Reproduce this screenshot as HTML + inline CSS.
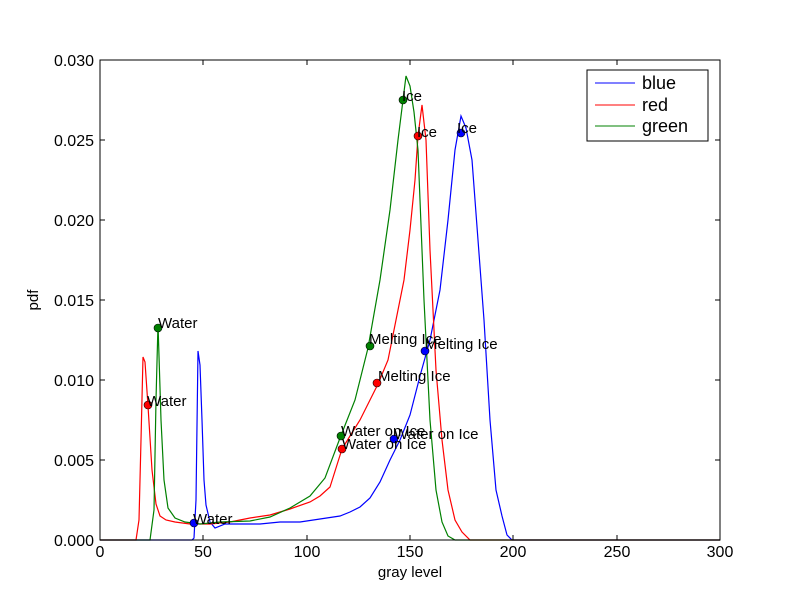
<!DOCTYPE html>
<html><head><meta charset="utf-8"><style>body{margin:0;background:#fff}svg{display:block}text{font-family:"Liberation Sans","DejaVu Sans",sans-serif}</style></head>
<body>
<svg width="800" height="600" viewBox="0 0 800 600" xmlns="http://www.w3.org/2000/svg">
<rect width="800" height="600" fill="#fff"/>
<g fill="none" stroke-width="1.2">
<polyline stroke="#0000ff" points="100,540 192,540 194,538 196,500 198,351 200,365 202,420 204,480 206,505 210,522 215,528 225,524 245,524 260,524 280,522 300,522 320,519 340,516 350,512 360,507 370,498 380,482 390,460 400,440 410,415 420,376 430,340 440,290 448,220 455,150 461,116 466,128 472,160 478,240 484,320 490,420 496,490 502,516 507,535 512,540 720,540"/>
<polyline stroke="#ff0000" points="100,540 136,540 139,520 141,440 143,357 145,362 148,406 152,470 156,504 160,516 166,520 175,522 190,524 210,524 230,522 250,518 270,515 290,509 310,502 320,496 330,487 342,449 350,436 360,420 370,400 378,384 388,360 396,320 404,280 410,230 415,180 418,136 422,105 426,140 430,250 436,370 442,440 448,490 455,520 462,532 470,540 720,540"/>
<polyline stroke="#008000" points="100,540 150,540 154,510 156,400 158,324 161,420 164,480 168,508 175,518 185,522 200,524 220,522 250,521 270,517 290,508 310,496 325,478 340,438 355,400 368,348 380,280 390,210 398,140 403,100 406,76 410,86 414,112 418,150 424,300 430,420 436,490 442,522 448,536 455,540 720,540"/>
</g>
<rect x="100" y="60" width="620" height="480" fill="none" stroke="#000"/>
<g stroke="#000">
<line x1="100" y1="540" x2="100" y2="535"/><line x1="203" y1="540" x2="203" y2="535"/><line x1="307" y1="540" x2="307" y2="535"/><line x1="410" y1="540" x2="410" y2="535"/><line x1="513" y1="540" x2="513" y2="535"/><line x1="617" y1="540" x2="617" y2="535"/>
<line x1="203" y1="60" x2="203" y2="65"/><line x1="307" y1="60" x2="307" y2="65"/><line x1="410" y1="60" x2="410" y2="65"/><line x1="513" y1="60" x2="513" y2="65"/><line x1="617" y1="60" x2="617" y2="65"/>
<line x1="100" y1="460" x2="105" y2="460"/><line x1="100" y1="380" x2="105" y2="380"/><line x1="100" y1="300" x2="105" y2="300"/><line x1="100" y1="220" x2="105" y2="220"/><line x1="100" y1="140" x2="105" y2="140"/>
<line x1="720" y1="460" x2="715" y2="460"/><line x1="720" y1="380" x2="715" y2="380"/><line x1="720" y1="300" x2="715" y2="300"/><line x1="720" y1="220" x2="715" y2="220"/><line x1="720" y1="140" x2="715" y2="140"/>
</g>
<g font-size="16" text-anchor="middle" fill="#000">
<text x="100" y="557">0</text><text x="203" y="557">50</text><text x="307" y="557">100</text><text x="410" y="557">150</text><text x="513" y="557">200</text><text x="617" y="557">250</text><text x="720" y="557">300</text>
<text x="410" y="577" font-size="15">gray level</text>
</g>
<g font-size="16" text-anchor="end">
<text x="94" y="546">0.000</text><text x="94" y="466">0.005</text><text x="94" y="386">0.010</text><text x="94" y="306">0.015</text><text x="94" y="226">0.020</text><text x="94" y="146">0.025</text><text x="94" y="66">0.030</text>
</g>
<text x="38" y="300" font-size="15" text-anchor="middle" transform="rotate(-90 38 300)">pdf</text>
<g stroke="#000" stroke-width="0.6">
<circle cx="194" cy="523" r="4" fill="#0000ff"/><circle cx="394" cy="439" r="4" fill="#0000ff"/><circle cx="425" cy="351" r="4" fill="#0000ff"/><circle cx="461" cy="133" r="4" fill="#0000ff"/>
<circle cx="148" cy="405" r="4" fill="#ff0000"/><circle cx="342" cy="449" r="4" fill="#ff0000"/><circle cx="377" cy="383" r="4" fill="#ff0000"/><circle cx="418" cy="136" r="4" fill="#ff0000"/>
<circle cx="158" cy="328" r="4" fill="#008000"/><circle cx="341" cy="436" r="4" fill="#008000"/><circle cx="370" cy="346" r="4" fill="#008000"/><circle cx="403" cy="100" r="4" fill="#008000"/>
</g>
<g font-size="15">
<text x="193" y="524">Water</text><text x="394" y="439">Water on Ice</text><text x="425" y="349">Melting Ice</text><text x="457" y="133">Ice</text>
<text x="147" y="406">Water</text><text x="342" y="449">Water on Ice</text><text x="378" y="381">Melting Ice</text><text x="417" y="137">Ice</text>
<text x="158" y="328">Water</text><text x="341" y="436">Water on Ice</text><text x="369" y="344">Melting Ice</text><text x="402" y="101">Ice</text>
</g>
<rect x="587" y="70" width="121" height="71" fill="#fff" stroke="#000"/>
<line x1="595" y1="83" x2="635" y2="83" stroke="#0000ff"/><line x1="595" y1="105" x2="635" y2="105" stroke="#ff0000"/><line x1="595" y1="126" x2="635" y2="126" stroke="#008000"/>
<g font-size="18"><text x="642" y="89">blue</text><text x="642" y="111">red</text><text x="642" y="132">green</text></g>
</svg>
</body></html>
